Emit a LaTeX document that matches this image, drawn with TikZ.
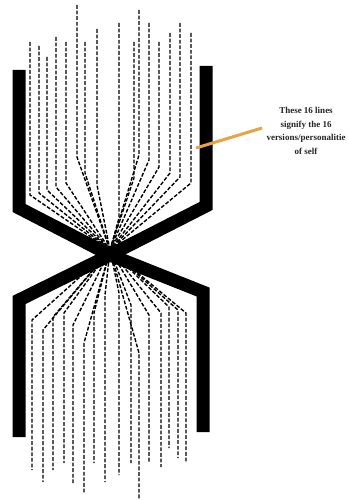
\documentclass[tikz,border=0pt]{standalone}
\usepackage{fontspec}
\setmainfont{Liberation Serif}
\definecolor{pointer}{HTML}{E8A343}
\tikzset{
  dline/.style={draw=black, line width=1.4pt, dash pattern=on 3.8pt off 1.8pt},
  bar/.style={draw=black, line width=13pt, line join=miter},
  lbltext/.style={align=center, font=\bfseries\fontsize{9}{13.8}\selectfont, text=black!85, inner sep=0pt}
}
\begin{document}
\begin{tikzpicture}[x=1pt,y=-1pt]
\useasboundingbox (0,0) rectangle (348,500);
\fill[white] (0,0) rectangle (348,500);
\coordinate (c) at (110,250);
% 16 dashed lines: top x, top y, bend y | bottom x, bend y, bottom y
\foreach \i/\tx/\ty/\tb/\bx/\bb/\by in {
  1/30/42/195/32/320/470,
  2/39/46/193/43/330/482,
  3/47/57/190/53/317/470,
  4/56/37/187/64/313/463,
  5/66/42/183/73/325/483,
  6/77/5/157/84/343/493,
  7/85/42/173/94/313/463,
  8/97/29/185/105/295/482,
  9/119/23/218/119/293/475,
  10/134/42/178/131/305/463,
  11/139/10/155/139/353/500,
  12/149/23/160/149/315/463,
  13/159/42/167/161/313/467,
  14/170/33/173/169/307/448,
  15/180/23/177/178/310/458,
  16/191/33/183/186/313/463}{
  \coordinate (t\i) at (\tx,\ty);
  \coordinate (u\i) at (\tx,\tb);
  \coordinate (l\i) at (\bx,\bb);
  \coordinate (b\i) at (\bx,\by);
  \draw[dline] (t\i) -- (u\i) -- (c) -- (l\i) -- (b\i);
}
% black X frame
\coordinate (x) at (110,255);
\coordinate (ult) at (19,70);
\coordinate (ulc) at (19,208);
\coordinate (urt) at (206,66);
\coordinate (urc) at (206,206);
\coordinate (llc) at (19,300);
\coordinate (llb) at (19,437);
\coordinate (lrc) at (203,292);
\coordinate (lrb) at (203,432);
\draw[bar] (ult) -- (ulc) -- (x);
\draw[bar] (urt) -- (urc) -- (x);
\draw[bar] (x) -- (llc) -- (llb);
\draw[bar] (x) -- (lrc) -- (lrb);
% label and pointer
\node[lbltext] (lbl) at (306,131) {These 16 lines\\signify the 16\\versions/personalitie\\of self};
\coordinate (p0) at (196,148);
\coordinate (p1) at (262,128);
\draw[pointer, line width=3pt] (p0) -- (p1);
\end{tikzpicture}
\end{document}
